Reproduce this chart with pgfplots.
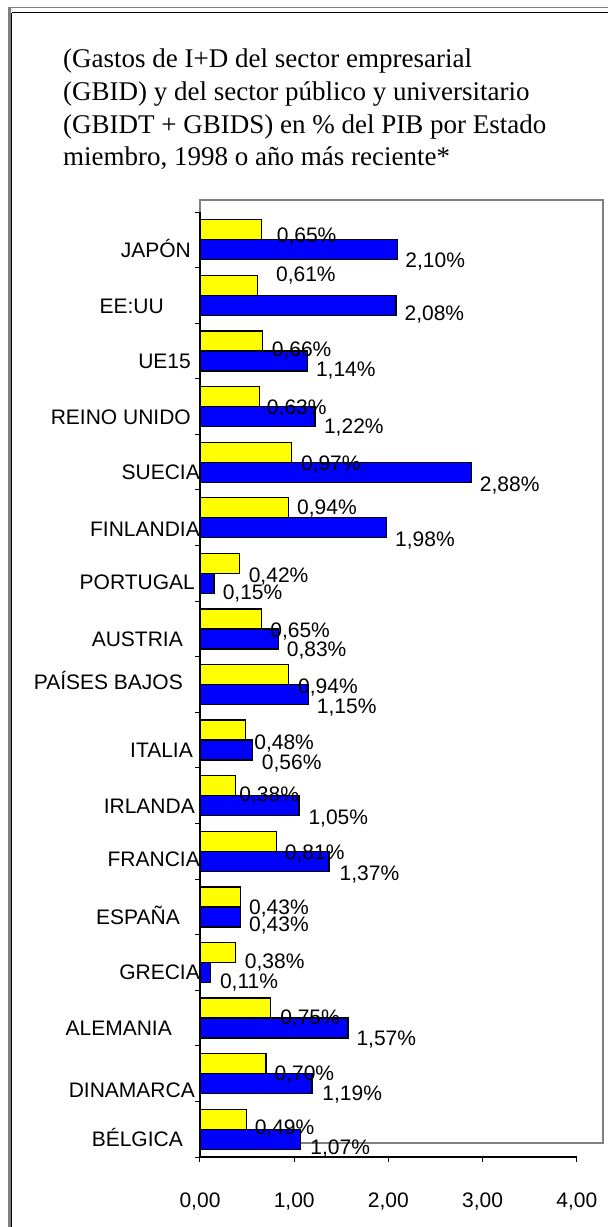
\documentclass[border=0pt]{standalone}
\usepackage{pgfplots}
\pgfplotsset{compat=1.18}
\usepackage{pgfplotstable}
\usepackage{fontspec}
\setmainfont{Liberation Sans}
\newfontfamily\serif{Liberation Serif}
\definecolor{barY}{HTML}{FFFF00}
\definecolor{barB}{HTML}{0000FF}
\definecolor{frameG}{HTML}{808080}

% y: 0 = BELGICA (bottom) ... 16 = JAPON (top)
% ydx/bdx: gap (pt) from bar end to label; ydy/bdy: vertical offset (pt, + = up)
\pgfplotstableread{
y yel ydx ydy blu bdx bdy
16 0.65 15 -5 2.10 7 -10
15 0.61 18 11 2.08 8 -8
14 0.66 9 -8 1.14 8 -8
13 0.63 7 -10 1.22 8.5 -9
12 0.97 9 -10.5 2.88 8 -11.6
11 0.94 8 1 1.98 8 -11.5
10 0.42 8.6 -12 0.15 8 -9
9 0.65 8.5 -11 0.83 8 -10
8 0.94 9 -11.5 1.15 8 -11
7 0.48 8.5 -11.7 0.56 8.5 -11.7
6 0.38 3 -8 1.05 9 -11
5 0.81 8 -11 1.37 10 -12
4 0.43 8 -10 0.43 8 -7
3 0.38 8.5 -8.5 0.11 9 -9
2 0.75 9 -9 1.57 8 -10
1 0.70 8 -9.7 1.19 9.7 -9
0 0.49 8 -8 1.07 9 -7.7
}\data

\newcommand{\cl}[3]{\raisebox{#3pt}{#1}\hspace*{#2pt}}

\begin{document}
\begin{tikzpicture}
\useasboundingbox (0pt,0pt) rectangle (608pt,-1227pt);
% outer frame
\draw[frameG, line width=1.2pt] (8.3pt,-7.7pt) -- (608pt,-7.7pt);
\draw[black, line width=1pt] (11.5pt,-12.7pt) -- (608pt,-12.7pt);
\draw[frameG, line width=2.4pt] (9.4pt,-7.2pt) -- (9.4pt,-1227pt);
\draw[black, line width=0.9pt] (11.6pt,-12.7pt) -- (11.6pt,-1227pt);
% title
\begin{scope}[every node/.style={anchor=base west, inner sep=0pt, font=\serif\fontsize{27}{32}\selectfont}]
\node at (63pt,-67pt) {(Gastos de I+D del sector empresarial};
\node at (63pt,-100pt) {(GBID) y del sector público y universitario};
\node at (63pt,-133pt) {(GBIDT + GBIDS) en \% del PIB por Estado};
\node at (63pt,-165pt) {miembro, 1998 o año más reciente*};
\end{scope}
% plot area box
\draw[frameG, line width=2pt] (200pt,-200pt) rectangle (603pt,-1143pt);
\begin{axis}[
  at={(200pt,-1157pt)}, anchor=south west,
  scale only axis, width=376.8pt, height=945pt,
  xmin=0, xmax=4, ymin=-0.5, ymax=16.5,
  clip=false,
  axis x line*=bottom, axis y line*=left,
  axis line style={black, line width=1.2pt},
  tick align=outside, major tick length=5pt,
  tick style={black, line width=1pt},
  xtick={0,1,2,3,4},
  xticklabel style={font=\fontsize{21}{25}\selectfont, anchor=north, inner sep=0pt,
    yshift=-30.5pt, text height=15pt, text depth=0pt,
    /pgf/number format/.cd, fixed, fixed zerofill, precision=2, use comma, assume math mode=true},
  ytick={-0.5,0.5,...,16.5},
  y tick label as interval,
  yticklabels={\cl{BÉLGICA}{17}{0},\cl{DINAMARCA}{5}{-6.7},\cl{ALEMANIA}{28}{0},\cl{GRECIA}{0}{0},
    \cl{ESPAÑA}{20}{0},\cl{FRANCIA}{0}{2},\cl{IRLANDA}{5}{0},\cl{ITALIA}{7}{0},
    \cl{PAÍSES BAJOS}{17}{13},\cl{AUSTRIA}{17}{0},\cl{PORTUGAL}{5}{1},\cl{FINLANDIA}{0}{-1.5},
    \cl{SUECIA}{0}{0},\cl{REINO UNIDO}{9}{0},\cl{UE15}{9}{0},\cl{EE:UU}{36}{-0.5},\cl{JAPÓN}{9}{0}},
  yticklabel style={font=\fontsize{21}{25}\selectfont, anchor=east, inner sep=0pt,
    xshift=5pt, yshift=-10pt, text height=15pt, text depth=0pt},
  xbar, bar width=20pt,
  point meta=x,
  nodes near coords={\pgfmathprintnumber[fixed,fixed zerofill,precision=2,use comma,assume math mode=true]{\pgfplotspointmeta}\%},
  every node near coord/.append style={font=\fontsize{21}{25}\selectfont, anchor=west,
    inner sep=0pt, text height=15pt, text depth=0pt, black},
]
\addplot[fill=barB, draw=black, line width=1.3pt, bar shift=-10pt,
  visualization depends on={\thisrow{bdx}\as\ldx},
  visualization depends on={\thisrow{bdy}\as\ldy},
  every node near coord/.append style={xshift=\ldx pt, yshift=\ldy pt}]
  table[x=blu, y=y] {\data};
\addplot[fill=barY, draw=black, line width=1.3pt, bar shift=10pt,
  visualization depends on={\thisrow{ydx}\as\ldx},
  visualization depends on={\thisrow{ydy}\as\ldy},
  every node near coord/.append style={xshift=\ldx pt, yshift=\ldy pt}]
  table[x=yel, y=y] {\data};
\end{axis}
\end{tikzpicture}
\end{document}
